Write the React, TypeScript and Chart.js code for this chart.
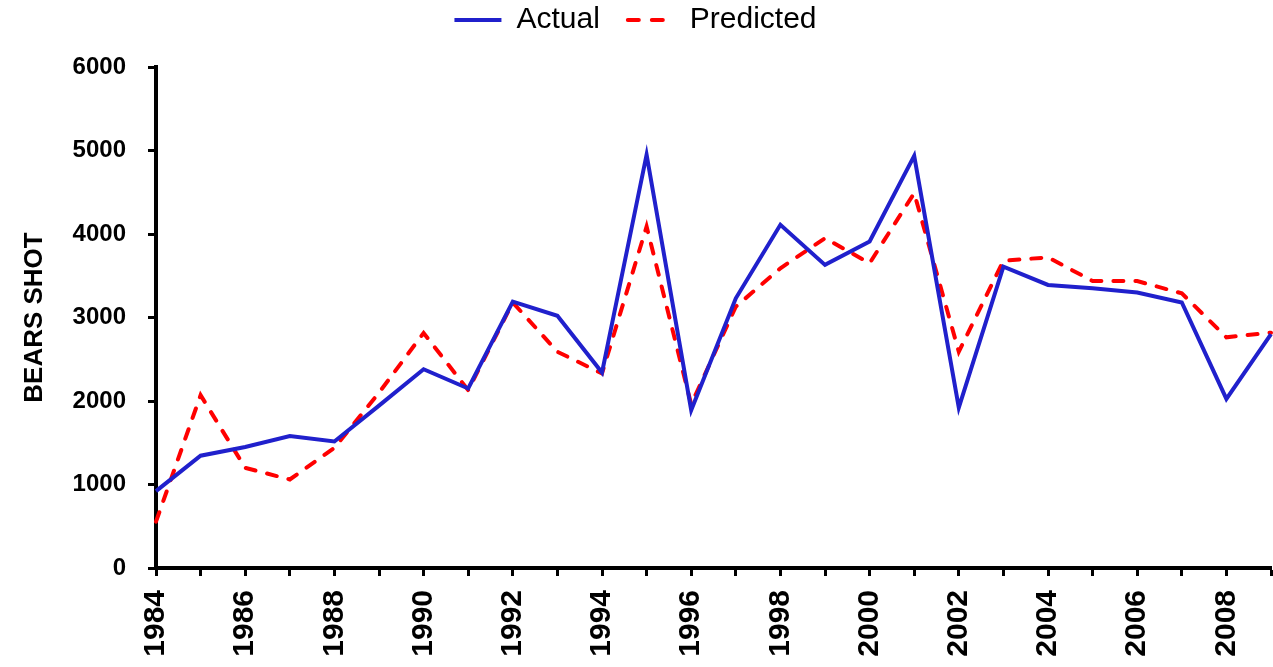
import React, { useEffect, useRef } from "react";
import { Chart, registerables } from "chart.js";

Chart.register(...registerables);

const years: string[] = [
  "1984", "1985", "1986", "1987", "1988", "1989", "1990", "1991", "1992", "1993",
  "1994", "1995", "1996", "1997", "1998", "1999", "2000", "2001", "2002", "2003",
  "2004", "2005", "2006", "2007", "2008", "2009",
];

const actual: number[] = [
  920, 1345, 1450, 1580, 1515, 1945, 2380, 2150, 3190, 3020,
  2340, 4950, 1890, 3230, 4110, 3630, 3910, 4935, 1920, 3610,
  3390, 3350, 3300, 3180, 2025, 2800,
];

const predicted: number[] = [
  555, 2070, 1200, 1060, 1440, 2100, 2815, 2130, 3180, 2590,
  2330, 4090, 1960, 3130, 3590, 3950, 3650, 4490, 2590, 3680,
  3720, 3437, 3437, 3289, 2763, 2818,
];

const yTicks: number[] = [0, 1000, 2000, 3000, 4000, 5000, 6000];

const FONT = "'Liberation Sans', Arial, Helvetica, sans-serif";

const legendSpacer = {
  id: "legendSpacer",
  beforeInit(chart: any) {
    const legend = chart.legend;
    if (!legend) return;
    const origFit = legend.fit;
    legend.fit = function () {
      origFit.call(this);
      this.height += 22;
    };
  },
};

export default function App() {
  const canvasRef = useRef<HTMLCanvasElement | null>(null);

  useEffect(() => {
    if (!canvasRef.current) return;
    const chart = new Chart(canvasRef.current, {
      type: "line",
      data: {
        labels: years,
        datasets: [
          {
            label: "Actual",
            data: actual,
            borderColor: "#2020CC",
            backgroundColor: "#2020CC",
            borderWidth: 4,
            pointRadius: 0,
            tension: 0,
            fill: false,
            borderJoinStyle: "miter",
          },
          {
            label: "Predicted",
            data: predicted,
            borderColor: "#FF0000",
            backgroundColor: "#FF0000",
            borderWidth: 4,
            borderDash: [10, 12],
            borderCapStyle: "round",
            pointRadius: 0,
            tension: 0,
            fill: false,
          },
        ],
      },
      options: {
        animation: false,
        responsive: true,
        maintainAspectRatio: false,
        layout: { padding: { left: 0, right: 2, top: -23, bottom: 0 } },
        plugins: {
          legend: {
            display: true,
            position: "top",
            labels: {
              usePointStyle: true,
              pointStyle: "line",
              pointStyleWidth: 47,
              boxWidth: 47,
              padding: 28,
              color: "#000",
              font: { family: FONT, size: 30, weight: "normal" },
              generateLabels: (c: any) => {
                const base = Chart.defaults.plugins.legend.labels.generateLabels(c);
                return base.map((item: any, i: number) => {
                  const ds: any = c.data.datasets[i];
                  return {
                    ...item,
                    lineWidth: 4,
                    strokeStyle: ds.borderColor,
                    fillStyle: ds.borderColor,
                    lineDash: ds.borderDash ? [11, 13] : [],
                    lineCap: ds.borderDash ? "round" : "butt",
                    pointStyle: "line",
                  };
                });
              },
            },
          },
          tooltip: { enabled: false },
        },
        scales: {
          x: {
            type: "category",
            offset: false,
            grid: {
              display: true,
              drawOnChartArea: false,
              drawTicks: true,
              tickLength: 8,
              tickWidth: 3,
              tickColor: "#000",
              offset: false,
            },
            border: { display: true, color: "#000", width: 4 },
            ticks: {
              autoSkip: false,
              minRotation: 90,
              maxRotation: 90,
              padding: 14,
              color: "#000",
              font: { family: FONT, size: 30, weight: "bold" },
              callback: function (this: any, val: any, idx: number) {
                const lab = years[idx];
                return Number(lab) % 2 === 0 ? lab : "";
              },
            },
            afterFit: (scale: any) => {
              scale.height = 99;
              scale.paddingLeft = 0;
              scale.paddingRight = 0;
            },
          },
          y: {
            min: 0,
            max: 6000,
            afterBuildTicks: (scale: any) => {
              scale.ticks = yTicks.map((v) => ({ value: v }));
            },
            grid: {
              display: true,
              drawOnChartArea: false,
              drawTicks: true,
              tickLength: 8,
              tickWidth: 3,
              tickColor: "#000",
            },
            border: { display: true, color: "#000", width: 4 },
            ticks: {
              padding: 22,
              color: "#000",
              font: { family: FONT, size: 24, weight: "bold" },
              callback: (v: any) => String(v),
            },
            title: {
              display: true,
              text: "BEARS SHOT",
              color: "#000",
              font: { family: FONT, size: 26, weight: "bold" },
              padding: { top: 19, bottom: 0 },
            },
            afterFit: (scale: any) => {
              scale.width = 156;
            },
          },
        },
      },
      plugins: [legendSpacer],
    });
    return () => chart.destroy();
  }, []);

  return (
    <div style={{ position: "fixed", left: 0, top: 0, width: 1273, height: 667, background: "#fff" }}>
      <canvas ref={canvasRef} />
    </div>
  );
}
